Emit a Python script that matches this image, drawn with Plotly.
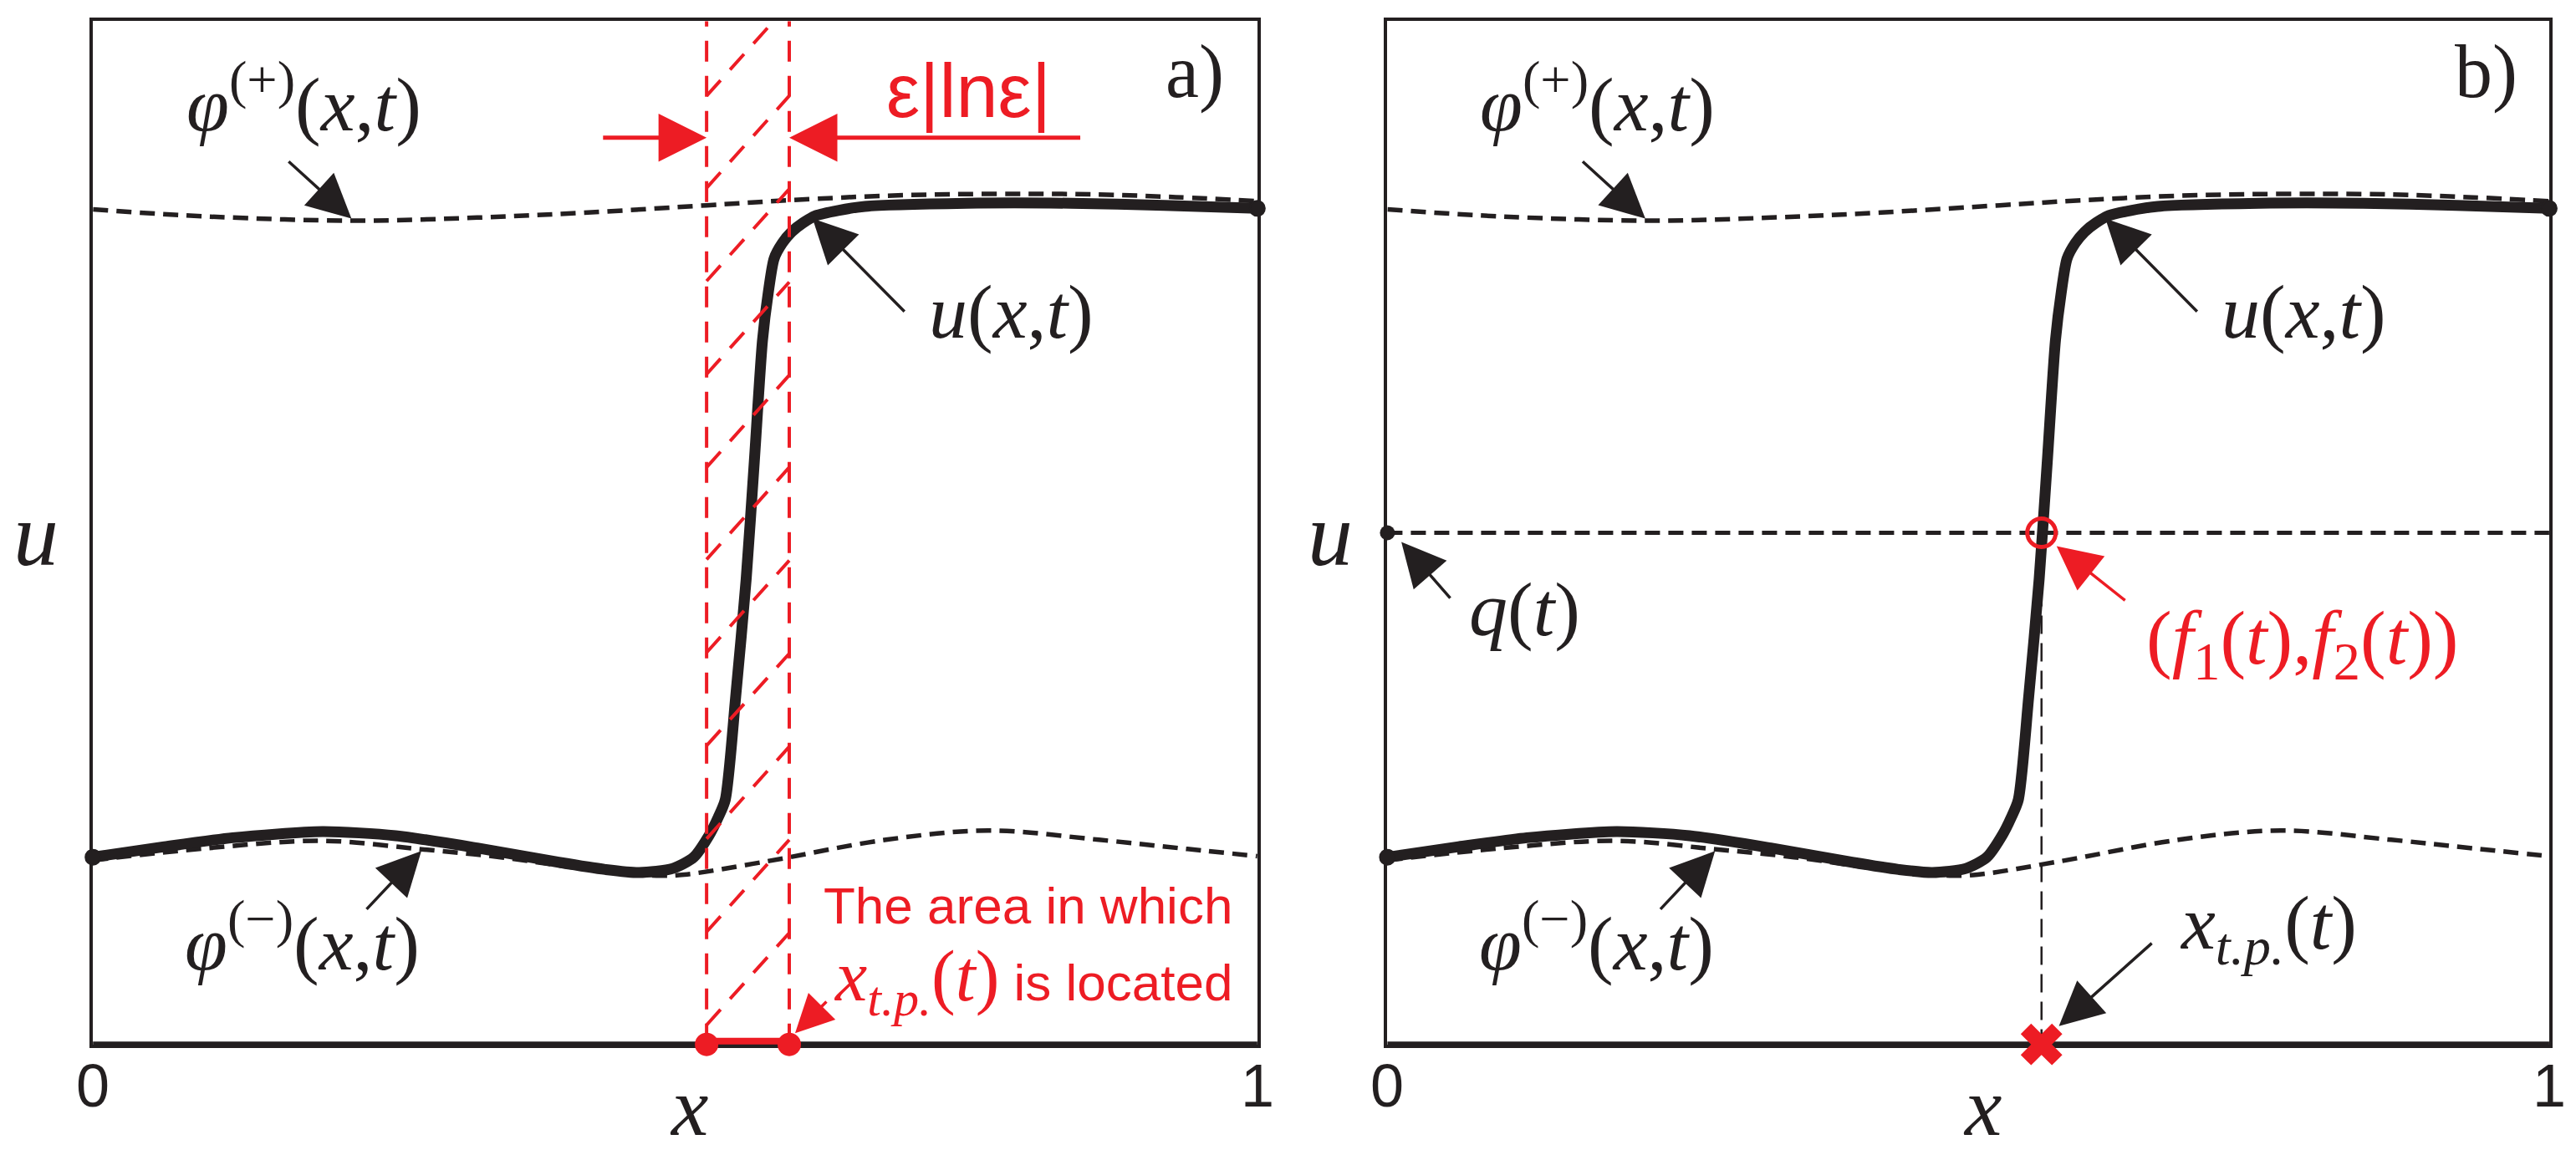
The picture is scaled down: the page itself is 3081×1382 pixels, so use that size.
import plotly.graph_objects as go

# sampled curves: x runs 0..1 across the frame, u is normalised to the frame height
x_u = [0.000, 0.060, 0.120, 0.197, 0.260, 0.330, 0.400, 0.440, 0.469, 0.498, 0.516,
       0.529, 0.537, 0.543, 0.552, 0.561, 0.568, 0.575, 0.580, 0.585, 0.592, 0.600,
       0.610, 0.621, 0.640, 0.663, 0.750, 0.840, 0.920, 1.000]
u_vals = [0.183, 0.193, 0.202, 0.208, 0.204, 0.192, 0.178, 0.171, 0.168, 0.172, 0.183,
          0.204, 0.222, 0.239, 0.340, 0.455, 0.570, 0.688, 0.735, 0.768, 0.783, 0.794,
          0.803, 0.810, 0.815, 0.819, 0.822, 0.822, 0.820, 0.817]

x_phi_plus = [0.000, 0.100, 0.225, 0.330, 0.425, 0.527, 0.598, 0.700, 0.840, 0.930, 1.000]
phi_plus = [0.816, 0.809, 0.805, 0.808, 0.813, 0.820, 0.825, 0.830, 0.831, 0.828, 0.824]

x_phi_minus = [0.000, 0.100, 0.197, 0.280, 0.350, 0.420, 0.484, 0.508, 0.579, 0.681,
               0.769, 0.864, 0.940, 1.000]
phi_minus = [0.180, 0.192, 0.199, 0.191, 0.183, 0.172, 0.165, 0.166, 0.179, 0.200,
             0.209, 0.200, 0.191, 0.184]

q_level = 0.5
x_tp = 0.563
strip_left, strip_right = 0.527, 0.598
# u where each hatch line leaves the left edge of the strip
hatch_start = [0.927, 0.837, 0.746, 0.655, 0.564, 0.474, 0.383, 0.292, 0.201, 0.110, 0.019]
hatch_rise = 0.090

tick_vals = [0, 1]
tick_text = ["0", "1"]
panel_names = ["a)", "b)"]

RED = "#ED1C24"
BLACK = "#231F20"
SERIF = "Liberation Serif"
SANS = "Liberation Sans"

PHI_P = "<i>φ</i><sup>(+)</sup>(<i>x</i>,<i>t</i>)"
PHI_M = "<i>φ</i><sup>(−)</sup>(<i>x</i>,<i>t</i>)"
U_TXT = "<i>u</i>(<i>x</i>,<i>t</i>)"
Q_TXT = "<i>q</i>(<i>t</i>)"
F_TXT = "(<i>f</i><sub>1</sub>(<i>t</i>),<i>f</i><sub>2</sub>(<i>t</i>))"
XTP_TXT = "<i>x</i><sub><i>t.p.</i></sub>(<i>t</i>)"

fig = go.Figure()
annotations = []
shapes = []


def arrow(xr, yr, tail, head, color=BLACK, width=3.5, size=3.0):
    return dict(x=head[0], y=head[1], ax=tail[0], ay=tail[1], xref=xr, yref=yr,
                axref=xr, ayref=yr, showarrow=True, arrowhead=2, arrowsize=size,
                arrowwidth=width, arrowcolor=color, text="")


def label(xr, yr, x, y, text, size=92, color=BLACK, family=SERIF, xanchor="center"):
    return dict(x=x, y=y, xref=xr, yref=yr, text=text, showarrow=False,
                xanchor=xanchor, yanchor="middle",
                font=dict(family=family, size=size, color=color))


for i, (xa, ya) in enumerate([("x", "y"), ("x2", "y2")]):
    fig.add_trace(go.Scatter(x=x_phi_plus, y=phi_plus, xaxis=xa, yaxis=ya, mode="lines",
                             line=dict(color=BLACK, width=5.5, dash="18px,10px", shape="spline")))
    fig.add_trace(go.Scatter(x=x_phi_minus, y=phi_minus, xaxis=xa, yaxis=ya, mode="lines",
                             line=dict(color=BLACK, width=5.5, dash="18px,10px", shape="spline")))
    fig.add_trace(go.Scatter(x=x_u, y=u_vals, xaxis=xa, yaxis=ya, mode="lines",
                             line=dict(color=BLACK, width=13, shape="spline", smoothing=0.7)))
    fig.add_trace(go.Scatter(x=[x_u[0], x_u[-1]], y=[u_vals[0], u_vals[-1]], xaxis=xa, yaxis=ya,
                             mode="markers", cliponaxis=False,
                             marker=dict(color=BLACK, size=18, line=dict(color=BLACK, width=2))))

    # heavier bottom edge of the frame
    shapes.append(dict(type="line", xref=f"{xa} domain", yref=f"{ya} domain", layer="below",
                       x0=0, x1=1, y0=0, y1=0, line=dict(color=BLACK, width=7)))

    annotations += [
        label(xa, ya, 0.181, 0.924, PHI_P),
        arrow(xa, ya, (0.167, 0.864), (0.222, 0.807)),
        label(xa, ya, 0.789, 0.716, U_TXT),
        arrow(xa, ya, (0.698, 0.715), (0.618, 0.807)),
        label(xa, ya, 0.180, 0.104, PHI_M),
        arrow(xa, ya, (0.234, 0.131), (0.282, 0.189)),
        label(xa, ya, 0.946, 0.950, panel_names[i], size=90),
        label(f"{xa} domain", ya, -0.049, 0.498, "<i>u</i>", size=108),
        label(xa, f"{ya} domain", 0.512, -0.061, "<i>x</i>", size=100),
    ]
    for v, t in zip(tick_vals, tick_text):
        annotations.append(label(xa, f"{ya} domain", v, -0.040, t, size=72, family=SANS))

# panel a: strip where the transition point lies
for xs in (strip_left, strip_right):
    fig.add_trace(go.Scatter(x=[xs, xs], y=[0, 1], xaxis="x", yaxis="y", mode="lines",
                             line=dict(color=RED, width=4, dash="25px,17px")))
hx, hy = [], []
for y0 in hatch_start:
    hx += [strip_left, strip_right, None]
    hy += [y0, y0 + hatch_rise, None]
fig.add_trace(go.Scatter(x=hx, y=hy, xaxis="x", yaxis="y", mode="lines",
                         line=dict(color=RED, width=4, dash="25px,17px")))
fig.add_trace(go.Scatter(x=[strip_left, strip_right], y=[0, 0], xaxis="x", yaxis="y",
                         mode="lines+markers", cliponaxis=False,
                         line=dict(color=RED, width=16), marker=dict(color=RED, size=28)))

annotations += [
    arrow("x", "y", (0.437, 0.886), (strip_left, 0.886), color=RED, width=5, size=2.3),
    arrow("x", "y", (0.849, 0.886), (strip_right, 0.886), color=RED, width=5, size=2.3),
    label("x", "y", 0.752, 0.932, "ε|lnε|", size=90, color=RED, family=SANS),
    label("x", "y", 0.980, 0.136, "The area in which", size=62, color=RED, family=SANS,
          xanchor="right"),
    label("x", "y", 0.980, 0.062,
          f'<span style="font-family:{SERIF};font-size:86px">{XTP_TXT}</span> is located',
          size=62, color=RED, family=SANS, xanchor="right"),
    arrow("x", "y", (0.631, 0.043), (0.603, 0.011), color=RED, width=3.5, size=2.6),
]

# panel b: level q(t) and the transition point
fig.add_trace(go.Scatter(x=[0, 1], y=[q_level, q_level], xaxis="x2", yaxis="y2", mode="lines",
                         line=dict(color=BLACK, width=5, dash="18px,10px")))
fig.add_trace(go.Scatter(x=[x_tp, x_tp], y=[q_level, 0], xaxis="x2", yaxis="y2", mode="lines",
                         line=dict(color=BLACK, width=2.5, dash="22px,11px")))
fig.add_trace(go.Scatter(x=[0], y=[q_level], xaxis="x2", yaxis="y2", mode="markers",
                         cliponaxis=False, marker=dict(color=BLACK, size=18)))
fig.add_trace(go.Scatter(x=[x_tp], y=[q_level], xaxis="x2", yaxis="y2", mode="markers",
                         marker=dict(symbol="circle-open", color=RED, size=34,
                                     line=dict(color=RED, width=5))))
fig.add_trace(go.Scatter(x=[x_tp], y=[0], xaxis="x2", yaxis="y2", mode="markers",
                         cliponaxis=False,
                         marker=dict(symbol="x", color=RED, size=44, line=dict(width=0))))

annotations += [
    label("x2", "y2", 0.118, 0.425, Q_TXT),
    arrow("x2", "y2", (0.055, 0.435), (0.012, 0.491)),
    label("x2", "y2", 0.788, 0.392, F_TXT, color=RED),
    arrow("x2", "y2", (0.636, 0.433), (0.576, 0.487), color=RED),
    label("x2", "y2", 0.758, 0.114, XTP_TXT),
    arrow("x2", "y2", (0.659, 0.100), (0.578, 0.018)),
]

axis_style = dict(range=[0, 1], showgrid=False, zeroline=False, showticklabels=False,
                  ticks="", showline=True, linecolor=BLACK, linewidth=4, mirror=True,
                  fixedrange=True, layer="below traces")

fig.update_layout(
    width=3081, height=1382,
    margin=dict(l=0, r=0, t=0, b=0),
    paper_bgcolor="white", plot_bgcolor="rgba(0,0,0,0)",
    showlegend=False,
    xaxis=dict(domain=[0.0335, 0.4855], anchor="y", **axis_style),
    yaxis=dict(domain=[0.1015, 0.9875], anchor="x", **axis_style),
    xaxis2=dict(domain=[0.536, 0.987], anchor="y2", **axis_style),
    yaxis2=dict(domain=[0.1015, 0.9875], anchor="x2", **axis_style),
    annotations=annotations,
    shapes=shapes,
)

fig.write_html("out.html")
